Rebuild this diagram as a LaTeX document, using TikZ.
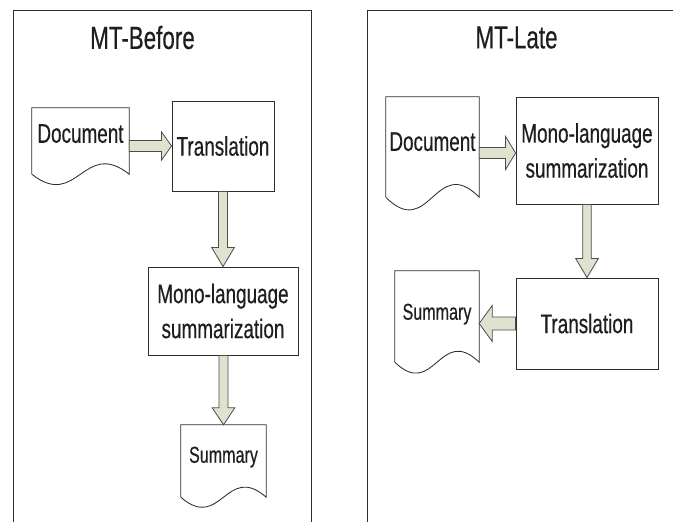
\documentclass[tikz,border=0pt]{standalone}
\usepackage{fontspec}
\setmainfont[FakeStretch=0.7,FakeBold=0.4]{Liberation Sans}
\usetikzlibrary{calc}
\definecolor{arrowfill}{RGB}{223,226,207}
\definecolor{linec}{RGB}{45,45,45}
\definecolor{textc}{RGB}{30,30,30}
% block arrow: #1 shaft half width, #2 head half width, #3 head length, #4 start, #5 tip
\newcommand\blockarrow[5]{%
\draw[barrow] let \p1=(#4), \p2=(#5), \n1={veclen(\x2-\x1,\y2-\y1)},
  \n2={(\x2-\x1)/(\n1)}, \n3={(\y2-\y1)/(\n1)} in
  ({\x1-(\n3)*#1},{\y1+(\n2)*#1}) --
  ({\x2-(\n2)*#3-(\n3)*#1},{\y2-(\n3)*#3+(\n2)*#1}) --
  ({\x2-(\n2)*#3-(\n3)*#2},{\y2-(\n3)*#3+(\n2)*#2}) --
  (\p2) --
  ({\x2-(\n2)*#3+(\n3)*#2},{\y2-(\n3)*#3-(\n2)*#2}) --
  ({\x2-(\n2)*#3+(\n3)*#1},{\y2-(\n3)*#3-(\n2)*#1}) --
  ({\x1+(\n3)*#1},{\y1-(\n2)*#1}) -- cycle;}
% document outline with wavy bottom: #1 node, #2 wave control offset
\newcommand\docoutline[2]{%
\draw[docline] (#1.south west) -- (#1.north west) -- (#1.north east) -- (#1.south east)
  .. controls ($(#1.south east)!0.468!(#1.south west)+(0,-#2)$)
  and ($(#1.south east)!0.532!(#1.south west)+(0,#2)$) .. (#1.south west);}
\begin{document}
\begin{tikzpicture}[x=1pt,y=-1pt,
  panel/.style={draw=linec, line width=1pt},
  box/.style={draw=linec, line width=0.85pt, fill=white, inner sep=0pt, align=center,
    text=textc, font=\fontsize{27}{35}\selectfont},
  docnode/.style={inner sep=0pt, fill=white},
  docline/.style={draw=linec, line width=0.85pt},
  doclabel/.style={text=textc, font=\fontsize{27}{35}\selectfont, inner sep=0pt},
  sumlabel/.style={text=textc, font=\fontsize{23}{28}\selectfont, inner sep=0pt},
  title/.style={text=textc, font=\fontsize{32}{38}\selectfont, inner sep=0pt},
  barrow/.style={draw=black!70, fill=arrowfill, line width=0.8pt, line join=miter}]
\useasboundingbox (0,0) rectangle (673,522);

% panels
\draw[panel] (13,522) -- (13,10) -- (311.5,10) -- (311.5,522);
\draw[panel] (367.5,522) -- (367.5,10) -- (673,10);

% titles
\node[title] (titleA) at (142.5,37.5) {MT-Before};
\node[title] (titleB) at (516.5,37.5) {MT-Late};

% left panel
\node[docnode, minimum width=97, minimum height=66,
  label={[doclabel, yshift=7.4pt]center:Document}] (d1) at (80.5,141) {};
\docoutline{d1}{36}
\node[box, minimum width=102, minimum height=90] (t1) at (223,146) {Translation};
\node[box, minimum width=150, minimum height=88] (m1) at (223,311) {Mono-language\\summarization};
\node[docnode, minimum width=85, minimum height=72,
  label={[sumlabel, yshift=3.9pt]center:Summary}] (s1) at (223.5,461) {};
\docoutline{s1}{35}

\blockarrow{5.5}{14}{10}{$(d1.east)+(0,5)$}{t1.west}
\blockarrow{4.5}{11.3}{19}{t1.south}{m1.north}
\blockarrow{4.5}{11.3}{17}{m1.south -| s1.north}{s1.north}

% right panel
\node[docnode, minimum width=93, minimum height=100,
  label={[doclabel, yshift=5.3pt]center:Document}] (d2) at (432.5,147) {};
\docoutline{d2}{44}
\node[box, minimum width=142, minimum height=107] (m2) at (587,150.5) {Mono-language\\summarization};
\node[box, minimum width=142, minimum height=91] (t2) at (587,323.5) {Translation};
\node[docnode, minimum width=84, minimum height=91,
  label={[sumlabel, yshift=2.4pt]center:Summary}] (s2) at (437,316.5) {};
\docoutline{s2}{38}

\blockarrow{5.5}{16.5}{10}{$(d2.east)+(0,6)$}{$(m2.west)+(0,2.5)$}
\blockarrow{4.2}{11.3}{19}{m2.south}{t2.north}
\blockarrow{6.5}{18}{13}{t2.west}{$(s2.east)+(0,7)$}
\end{tikzpicture}
\end{document}
